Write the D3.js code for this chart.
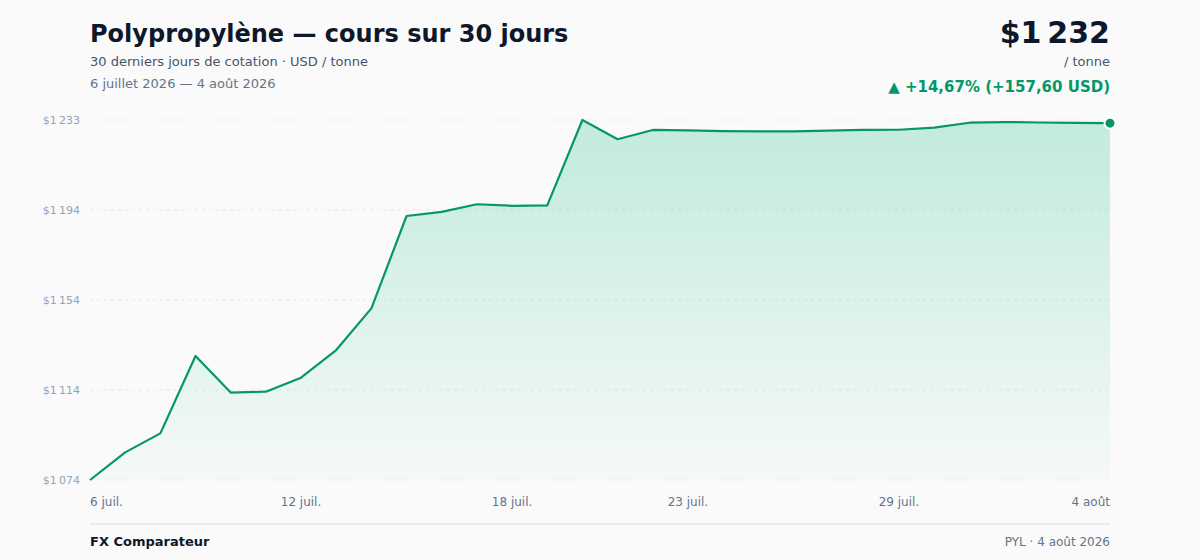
<!DOCTYPE html>
<html>
<head>
<meta charset="utf-8">
<script src="https://d3js.org/d3.v7.min.js"></script>
<style>
  html, body { margin: 0; padding: 0; background: #fafafa; }
  body { font-family: 'DejaVu Sans', sans-serif; }
</style>
</head>
<body>
<div id="chart"></div>
<script>
  // 30 jours de cotation, USD / tonne
  var startDate = "2026-07-06";
  var prices = [
    1074.4, 1086.6, 1095.0, 1129.2, 1113.0, 1113.4, 1119.6, 1131.8, 1150.2, 1191.0,
    1192.8, 1196.2, 1195.5, 1195.7, 1233.4, 1224.9, 1229.0, 1228.8, 1228.5, 1228.4,
    1228.4, 1228.7, 1229.0, 1229.1, 1230.0, 1232.2, 1232.5, 1232.3, 1232.1, 1232.0
  ];
  var xTickDates = ["2026-07-06", "2026-07-12", "2026-07-18", "2026-07-23", "2026-07-29", "2026-08-04"];
  var xTickLabels = ["6 juil.", "12 juil.", "18 juil.", "23 juil.", "29 juil.", "4 août"];

  var W = 1200, H = 560;
  var margin = { top: 120, right: 90, bottom: 80, left: 90 };

  var fr = d3.formatLocale({ decimal: ",", thousands: "\u202f", grouping: [3], currency: ["$", ""] });
  var fmtInt = fr.format(",.0f");
  var fmt2 = fr.format(",.2f");

  var parse = d3.timeParse("%Y-%m-%d");
  var t0 = parse(startDate);
  var data = prices.map(function (p, i) { return { date: d3.timeDay.offset(t0, i), value: p }; });

  var first = prices[0], last = prices[prices.length - 1];
  var change = last - first, pct = change / first * 100;

  var svg = d3.select("#chart").append("svg")
    .attr("width", W).attr("height", H);

  var x = d3.scaleTime()
    .domain(d3.extent(data, function (d) { return d.date; }))
    .range([margin.left, W - margin.right]);

  var yMin = d3.min(prices), yMax = d3.max(prices);
  var y = d3.scaleLinear()
    .domain([yMin, yMax])
    .range([H - margin.bottom, margin.top]);

  var yTicks = d3.range(5).map(function (k) { return yMin + k * (yMax - yMin) / 4; });

  // header
  svg.append("text").attr("x", 90).attr("y", 42)
    .attr("font-size", 24).attr("font-weight", "bold").attr("fill", "#0f172a")
    .text("Polypropylène — cours sur 30 jours");
  svg.append("text").attr("x", 90).attr("y", 66)
    .attr("font-size", 13).attr("fill", "#475569")
    .text("30 derniers jours de cotation · USD / tonne");
  svg.append("text").attr("x", 90).attr("y", 88)
    .attr("font-size", 13).attr("fill", "#64748b")
    .text("6 juillet 2026 — 4 août 2026");

  svg.append("text").attr("x", 1110).attr("y", 43).attr("text-anchor", "end")
    .attr("font-size", 30).attr("font-weight", "bold").attr("fill", "#0f172a")
    .text("$" + fmtInt(last));
  svg.append("text").attr("x", 1110).attr("y", 66).attr("text-anchor", "end")
    .attr("font-size", 13).attr("fill", "#475569")
    .text("/ tonne");
  svg.append("text").attr("x", 1110).attr("y", 92).attr("text-anchor", "end")
    .attr("font-size", 15).attr("font-weight", "bold").attr("fill", "#059669")
    .text("▲ +" + fmt2(pct) + "% (+" + fmt2(change) + " USD)");

  // gradient
  var grad = svg.append("defs").append("linearGradient")
    .attr("id", "areaGrad").attr("x1", 0).attr("y1", 0).attr("x2", 0).attr("y2", 1);
  grad.append("stop").attr("offset", "0%").attr("stop-color", "#10b981").attr("stop-opacity", 0.24);
  grad.append("stop").attr("offset", "100%").attr("stop-color", "#10b981").attr("stop-opacity", 0.02);

  // grid
  svg.append("g").selectAll("line").data(yTicks).enter().append("line")
    .attr("x1", margin.left).attr("x2", W - margin.right)
    .attr("y1", function (d) { return y(d); }).attr("y2", function (d) { return y(d); })
    .attr("stroke", "#e5e7eb").attr("stroke-width", 1).attr("stroke-dasharray", "3,4");

  svg.append("g").selectAll("text").data(yTicks).enter().append("text")
    .attr("x", 80).attr("y", function (d) { return y(d) + 4; })
    .attr("text-anchor", "end").attr("font-size", 11).attr("fill", "#94a3b8")
    .text(function (d) { return "$" + fmtInt(d); });

  var area = d3.area()
    .x(function (d) { return x(d.date); })
    .y0(H - margin.bottom)
    .y1(function (d) { return y(d.value); });
  var line = d3.line()
    .x(function (d) { return x(d.date); })
    .y(function (d) { return y(d.value); });

  svg.append("path").datum(data).attr("d", area).attr("fill", "url(#areaGrad)");
  svg.append("path").datum(data).attr("d", line)
    .attr("fill", "none").attr("stroke", "#059669").attr("stroke-width", 2.2)
    .attr("stroke-linejoin", "round");

  svg.append("circle")
    .attr("cx", x(data[data.length - 1].date)).attr("cy", y(last)).attr("r", 5.5)
    .attr("fill", "#059669").attr("stroke", "#fff").attr("stroke-width", 2);

  // x axis labels
  svg.append("g").selectAll("text").data(xTickDates).enter().append("text")
    .attr("x", function (d) { return x(parse(d)); })
    .attr("y", 506)
    .attr("text-anchor", function (d, i) { return i === 0 ? "start" : (i === xTickDates.length - 1 ? "end" : "middle"); })
    .attr("font-size", 12).attr("fill", "#64748b")
    .text(function (d, i) { return xTickLabels[i]; });

  // footer
  svg.append("line").attr("x1", 90).attr("x2", 1110).attr("y1", 524).attr("y2", 524)
    .attr("stroke", "#e5e7eb").attr("stroke-width", 1.5);
  svg.append("text").attr("x", 90).attr("y", 546)
    .attr("font-size", 13).attr("font-weight", "bold").attr("fill", "#0f172a")
    .text("FX Comparateur");
  svg.append("text").attr("x", 1110).attr("y", 546).attr("text-anchor", "end")
    .attr("font-size", 12).attr("fill", "#64748b")
    .text("PYL · 4 août 2026");
</script>
</body>
</html>
